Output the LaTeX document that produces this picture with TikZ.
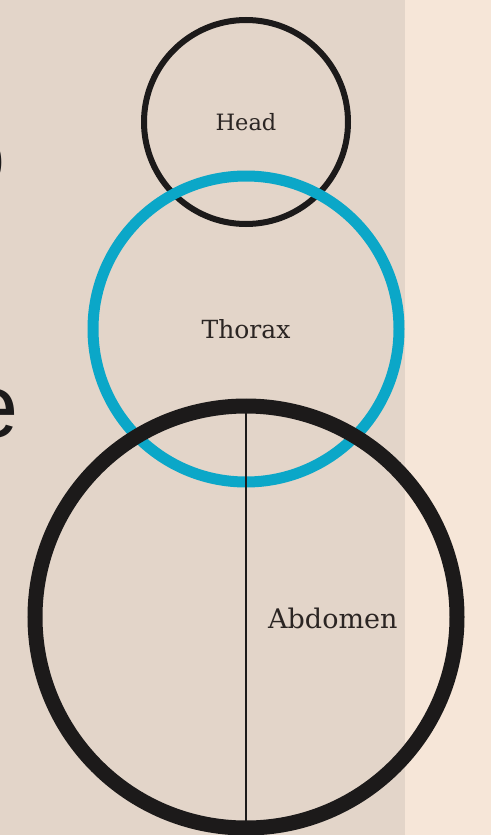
\documentclass[tikz,border=0pt]{standalone}
\usepackage{fontspec}
\setmainfont{DejaVu Serif}
\newfontfamily\bigsans{Liberation Sans}
\definecolor{bgdark}{HTML}{E3D5C9}
\definecolor{bglight}{HTML}{F6E6D8}
\definecolor{inkblack}{HTML}{1C1A1A}
\definecolor{inkcyan}{HTML}{0BA7C8}
\definecolor{txt}{HTML}{2B2523}
\begin{document}
\begin{tikzpicture}[x=1pt,y=-1pt,
  ring/.style={circle, draw, fill=none, inner sep=0pt},
  lbl/.style={text=txt, inner sep=0pt},
  bigletter/.style={text=inkblack, inner sep=0pt, font=\bigsans\fontsize{90}{90}\selectfont}]
\useasboundingbox (0,0) rectangle (491,835);
\fill[bglight] (0,0) rectangle (491,835);
\fill[bgdark] (0,0) rectangle (405,835);
\node[bigletter, anchor=base east] (o) at (5.5,186) {o};
\node[bigletter, anchor=base east] (e) at (19,437) {e};
\node[ring, draw=inkblack, line width=6pt, minimum size=204pt] (head) at (246,122) {};
\node[ring, draw=inkcyan, line width=11pt, minimum size=306pt] (thorax) at (246,329) {};
\node[ring, draw=inkblack, line width=15pt, minimum size=422pt] (abd) at (246,617) {};
\draw[inkblack, line width=2pt] (abd.north) -- (abd.south);
\node[lbl, font=\fontsize{22.5}{22.5}\selectfont] (headl) at (head.center) {Head};
\node[lbl, font=\fontsize{25}{25}\selectfont] (thoraxl) at (thorax.center) {Thorax};
\node[lbl, font=\fontsize{27}{27}\selectfont, anchor=west] (abdl) at (268,618) {Abdomen};
\end{tikzpicture}
\end{document}
